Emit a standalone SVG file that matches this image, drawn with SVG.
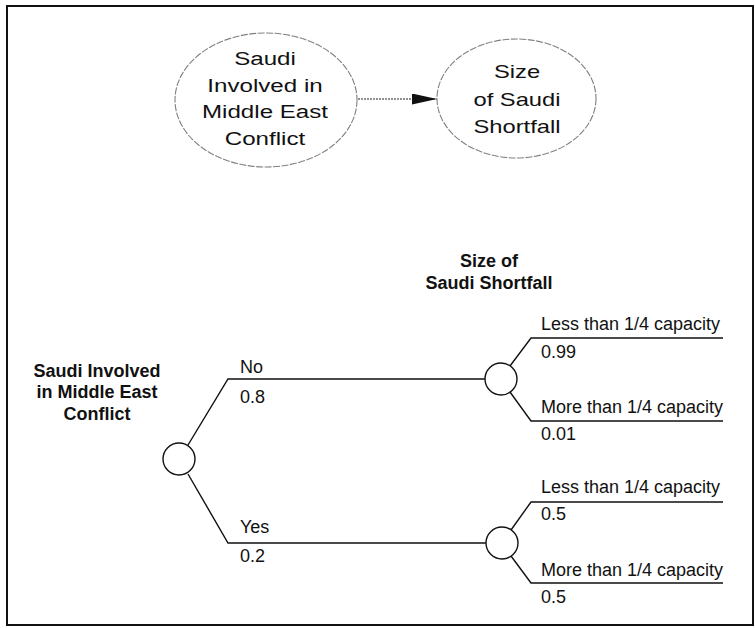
<svg xmlns="http://www.w3.org/2000/svg" width="755" height="628" viewBox="0 0 755 628">
<defs>
<style>
.inf{fill:#fff;stroke:#808080;stroke-width:1.1;stroke-dasharray:7 1.5}
.it{font-family:"Liberation Sans",Arial,sans-serif;font-size:19px;fill:#111;text-anchor:middle}
.br{fill:none;stroke:#111;stroke-width:1.4}
.ch{fill:#fff;stroke:#111;stroke-width:1.4}
.t{font-family:"Liberation Sans",Arial,sans-serif;font-size:18px;fill:#111}
.h{font-family:"Liberation Sans",Arial,sans-serif;font-size:18px;font-weight:bold;fill:#111;text-anchor:middle}
</style>
<marker id="ah" viewBox="0 0 25 11" refX="25" refY="5.5" markerWidth="25" markerHeight="11" markerUnits="userSpaceOnUse" orient="auto">
<path d="M0,0 L25,5.5 L0,11 Z" fill="#111"/>
</marker>
</defs>
<rect x="7" y="6" width="746" height="619" fill="#fff" stroke="#111" stroke-width="2"/>
<g id="connectors">
<line x1="358" y1="99" x2="437" y2="99" stroke="#222" stroke-width="1" stroke-dasharray="2 1" marker-end="url(#ah)"/>
<polyline class="br" points="188,445 228,379 485,379"/>
<polyline class="br" points="188,474 228,543 486,543"/>
<polyline class="br" points="510,366 531,338 723,338"/>
<polyline class="br" points="510,392 531,421 723,421"/>
<polyline class="br" points="511,530 531,502 723,502"/>
<polyline class="br" points="511,556 531,583 723,583"/>
</g>
<g id="node-saudi-involved">
<ellipse class="inf" cx="266" cy="100" rx="91" ry="67"/>
<g transform="translate(265 0) scale(1.27 1)">
<text class="it" x="0" y="65">Saudi</text>
<text class="it" x="0" y="92">Involved in</text>
<text class="it" x="0" y="118">Middle East</text>
<text class="it" x="0" y="145">Conflict</text>
</g>
</g>
<g id="node-size-shortfall">
<ellipse class="inf" cx="516.5" cy="98.5" rx="79.5" ry="59.5"/>
<g transform="translate(517 0) scale(1.25 1)">
<text class="it" x="0" y="78">Size</text>
<text class="it" x="0" y="106">of Saudi</text>
<text class="it" x="0" y="133">Shortfall</text>
</g>
</g>
<g id="label-root">
<text class="h" x="97" y="377">Saudi Involved</text>
<text class="h" x="97" y="398">in Middle East</text>
<text class="h" x="97" y="420">Conflict</text>
</g>
<g id="label-shortfall">
<text class="h" x="489" y="267">Size of</text>
<text class="h" x="489" y="289">Saudi Shortfall</text>
</g>
<g id="chance-root">
<circle class="ch" cx="179" cy="459" r="16"/>
</g>
<g id="chance-no">
<circle class="ch" cx="501" cy="379" r="16"/>
</g>
<g id="chance-yes">
<circle class="ch" cx="502" cy="543" r="16"/>
</g>
<g id="branch-labels">
<text class="t" x="240" y="373">No</text>
<text class="t" x="240" y="403">0.8</text>
<text class="t" x="240" y="533">Yes</text>
<text class="t" x="240" y="562">0.2</text>
<text class="t" x="541" y="330">Less than 1/4 capacity</text>
<text class="t" x="541" y="358">0.99</text>
<text class="t" x="541" y="413">More than 1/4 capacity</text>
<text class="t" x="541" y="440">0.01</text>
<text class="t" x="541" y="493">Less than 1/4 capacity</text>
<text class="t" x="541" y="520">0.5</text>
<text class="t" x="541" y="576">More than 1/4 capacity</text>
<text class="t" x="541" y="603">0.5</text>
</g>
</svg>
